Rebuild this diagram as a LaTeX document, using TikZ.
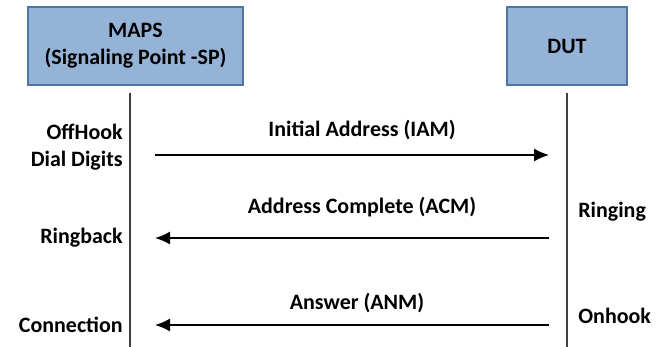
\documentclass[tikz,border=0pt]{standalone}
\usepackage{fontspec}
\setmainfont{Carlito}
\usetikzlibrary{arrows.meta}
\definecolor{boxfill}{HTML}{95B3D7}
\definecolor{boxline}{HTML}{4F74A8}
\tikzset{
  entity/.style={draw=boxline, line width=1.4pt, fill=boxfill, align=center},
  lifeline/.style={draw=black!75, line width=0.8pt},
  msg/.style={line width=0.8pt, -{Latex[length=3mm,width=2.6mm]}},
}

\begin{document}
\begin{tikzpicture}[x=0.02cm, y=-0.02cm, font=\fontsize{12.5}{15.4}\selectfont\bfseries]
  \useasboundingbox (0,0) rectangle (661,347);
  \node[entity, minimum width=215*0.02cm, minimum height=78*0.02cm] (maps) at (135.5,46) {MAPS\\(Signaling Point -SP)};
  \node[entity, minimum width=120*0.02cm, minimum height=78*0.02cm] (dut) at (567,46) {DUT};
  % lifelines
  \coordinate (mapsTop) at (130,93); \coordinate (mapsBot) at (130,347);
  \coordinate (dutTop) at (567,93);  \coordinate (dutBot) at (567,347);
  \draw[lifeline] (mapsTop) -- (mapsBot);
  \draw[lifeline] (dutTop) -- (dutBot);
  % messages
  \coordinate (iamA) at (155,155); \coordinate (iamB) at (549,155);
  \coordinate (acmA) at (549,238); \coordinate (acmB) at (155,238);
  \coordinate (anmA) at (549,325); \coordinate (anmB) at (155,325);
  \draw[msg] (iamA) -- (iamB) node[midway, above=5pt, xshift=0.2cm] (iam) {Initial Address (IAM)};
  \draw[msg] (acmA) -- (acmB) node[midway, above=8pt, xshift=0.2cm] (acm) {Address Complete (ACM)};
  \draw[msg] (anmA) -- (anmB) node[midway, above=3pt, xshift=0.1cm] (anm) {Answer (ANM)};
  % events
  \node[align=right, anchor=east, inner sep=0pt] (offhook) at (123,147) {OffHook\\Dial Digits};
  \node[anchor=east, inner sep=0pt] (ringback) at (123,238) {Ringback};
  \node[anchor=east, inner sep=0pt] (connection) at (123,325) {Connection};
  \node[anchor=west, inner sep=0pt] (ringing) at (578,212) {Ringing};
  \node[anchor=west, inner sep=0pt] (onhook) at (578,316) {Onhook};
\end{tikzpicture}
\end{document}
